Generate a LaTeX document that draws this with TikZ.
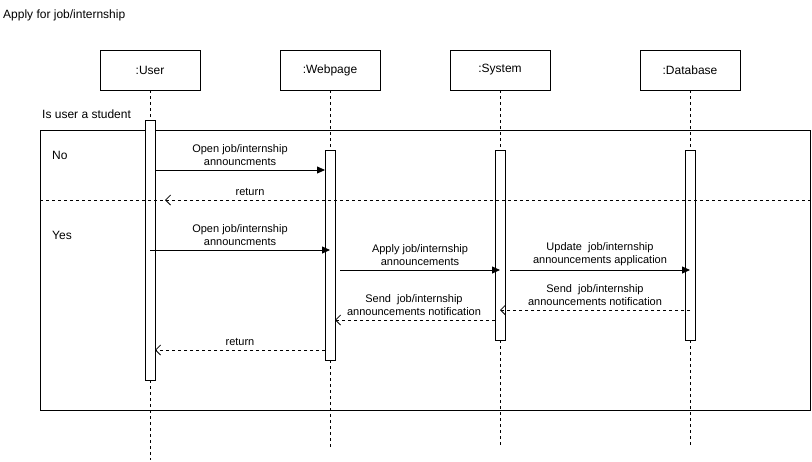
\documentclass[tikz,border=0pt]{standalone}
\usepackage{fontspec}
\setmainfont{Liberation Sans}
\usetikzlibrary{arrows.meta}
\begin{document}
\begin{tikzpicture}[x=1pt,y=-1pt,
  actor/.style={draw, line width=0.9pt, minimum width=100pt, minimum height=40pt, inner sep=0pt, font=\fontsize{12}{14}\selectfont},
  actbar/.style={draw, line width=0.9pt, fill=white, minimum width=10pt, inner sep=0pt},
  life/.style={line width=0.8pt, dash pattern=on 3pt off 3pt},
  msg/.style={line width=0.8pt, -{Triangle[length=8pt,width=7pt]}},
  ret/.style={line width=0.8pt, dash pattern=on 3pt off 3pt, -{Straight Barb[length=5pt,width=10pt]}},
  lbl/.style={font=\fontsize{11}{13}\selectfont, align=center, inner sep=1pt, anchor=south},
  plain/.style={font=\fontsize{12}{14}\selectfont, inner sep=0pt, anchor=west}
]
\useasboundingbox (0,0) rectangle (812,461);
\fill[white] (0,0) rectangle (812,461);

\node[plain] (title) at (3,15) {Apply for job/internship};

% actors
\node[actor] (user) at (150,70) {:User};
\node[actor] (web) at (330,70) {:Webpage};
\node[actor] (sys) at (500,70) {:System};
\node[actor] (db) at (690,70) {:Database};

% frame
\node[draw, line width=0.9pt, minimum width=770pt, minimum height=280pt, inner sep=0pt] (frame) at (425,270) {};
\node[plain] (cond) at (42,114) {Is user a student};
\node[plain] (no) at (52,155) {No};
\node[plain] (yes) at (52,235) {Yes};

% activation bars
\node[actbar, minimum height=260pt] (ua) at (150,250) {};
\node[actbar, minimum height=210pt] (wa) at (330,255) {};
\node[actbar, minimum height=190pt] (sa) at (500,245) {};
\node[actbar, minimum height=190pt] (da) at (690,245) {};

% lifeline ends
\coordinate (uend) at (150,460);
\coordinate (wend) at (330,448);
\coordinate (send) at (500,448);
\coordinate (dend) at (690,448);

\draw[life] (user.south) -- (ua.north);
\draw[life] (ua.south) -- (uend);
\draw[life] (web.south) -- (wa.north);
\draw[life] (wa.south) -- (wend);
\draw[life] (sys.south) -- (sa.north);
\draw[life] (sa.south) -- (send);
\draw[life] (db.south) -- (da.north);
\draw[life] (da.south) -- (dend);

% divider
\coordinate (divl) at (40,200);
\coordinate (divr) at (810,200);
\draw[life] (divl) -- (divr);

% message end points
\coordinate (m1a) at (155,170); \coordinate (m1b) at (325,170);
\coordinate (m2a) at (325,200); \coordinate (m2b) at (165,200);
\coordinate (m3a) at (150,250); \coordinate (m3b) at (330,250);
\coordinate (m4a) at (340,270); \coordinate (m4b) at (500,270);
\coordinate (m5a) at (510,270); \coordinate (m5b) at (690,270);
\coordinate (m6a) at (690,310); \coordinate (m6b) at (500,310);
\coordinate (m7a) at (495,320); \coordinate (m7b) at (335,320);
\coordinate (m8a) at (325,350); \coordinate (m8b) at (155,350);

\draw[msg] (m1a) -- (m1b);
\node[lbl] (l1) at (240,167) {Open job/internship\\announcments};
\draw[ret] (m2a) -- (m2b);
\node[lbl] (l2) at (250,197) {return};
\draw[msg] (m3a) -- (m3b);
\node[lbl] (l3) at (240,247) {Open job/internship\\announcments};
\draw[msg] (m4a) -- (m4b);
\node[lbl] (l4) at (420,267) {Apply job/internship\\announcements};
\draw[msg] (m5a) -- (m5b);
\node[lbl] (l5) at (600,267) {Update\ \ job/internship\\announcements application};
\draw[ret] (m6a) -- (m6b);
\node[lbl] (l6) at (595,307) {Send\ \ job/internship\\announcements notification};
\draw[ret] (m7a) -- (m7b);
\node[lbl] (l7) at (414,317) {Send\ \ job/internship\\announcements notification};
\draw[ret] (m8a) -- (m8b);
\node[lbl] (l8) at (240,347) {return};
\end{tikzpicture}
\end{document}
